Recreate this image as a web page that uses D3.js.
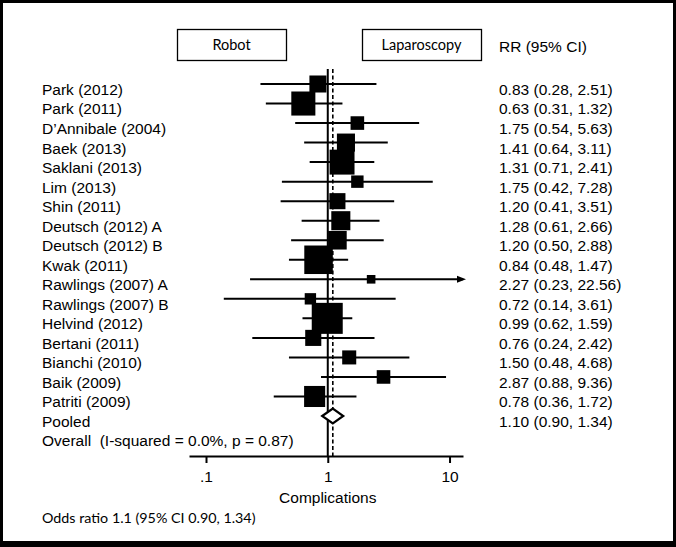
<!DOCTYPE html>
<html>
<head>
<meta charset="utf-8">
<script src="https://cdn.jsdelivr.net/npm/d3@7/dist/d3.min.js"></script>
<style>
  html, body { margin: 0; padding: 0; background: #fff; }
  svg { display: block; }
  text { white-space: pre; }
</style>
</head>
<body>
<svg id="chart" width="676" height="547"></svg>
<script>
// ---------------- DATA ----------------
const studies = [
  "Park (2012)", "Park (2011)", "D\u2019Annibale (2004)", "Baek (2013)", "Saklani (2013)",
  "Lim (2013)", "Shin (2011)", "Deutsch (2012) A", "Deutsch (2012) B", "Kwak (2011)",
  "Rawlings (2007) A", "Rawlings (2007) B", "Helvind (2012)", "Bertani (2011)",
  "Bianchi (2010)", "Baik (2009)", "Patriti (2009)"
];
const rr    = [0.83, 0.63, 1.75, 1.41, 1.31, 1.75, 1.20, 1.28, 1.20, 0.84, 2.27, 0.72, 0.99, 0.76, 1.50, 2.87, 0.78];
const ciLow = [0.28, 0.31, 0.54, 0.64, 0.71, 0.42, 0.41, 0.61, 0.50, 0.48, 0.23, 0.14, 0.62, 0.24, 0.48, 0.88, 0.36];
const ciHigh= [2.51, 1.32, 5.63, 3.11, 2.41, 7.28, 3.51, 2.66, 2.88, 1.47, 22.56, 3.61, 1.59, 2.42, 4.68, 9.36, 1.72];
const weights = [4.7, 9.4, 3.0, 5.3, 10.1, 2.5, 4.2, 5.9, 5.6, 13.2, 1.2, 2.1, 15.6, 4.2, 3.2, 3.0, 7.2];

const pooledLabel = ["Pooled"];
const pooledValues = [1.10, 0.90, 1.34];   // estimate, low, high
const overallText = ["Overall  (I-squared = 0.0%, p = 0.87)"];

const groupLabels = ["Robot", "Laparoscopy"];
const columnHeader = ["RR (95% CI)"];
const tickValues = [0.1, 1, 10];
const tickLabels = [".1", "1", "10"];
const axisTitle = ["Complications"];
const axisDomain = [0.0725, 12.9];
const footnote = ["Odds ratio 1.1 (95% CI 0.90, 1.34)"];

// ---------------- LAYOUT ----------------
const W = 676, H = 547;
const svg = d3.select("#chart");
const ARIAL = "'Liberation Sans', Arial, Helvetica, sans-serif";
const CALI = "Lato, 'Open Sans', sans-serif";
const FS = 15.5;

// frame
svg.append("rect").attr("x", 0).attr("y", 0).attr("width", W).attr("height", H).attr("fill", "#000");
svg.append("rect").attr("x", 3).attr("y", 3).attr("width", 670).attr("height", 538).attr("fill", "#fff");

const x = d3.scaleLog().domain(axisDomain).range([189, 463]);
const nRows = studies.length + 2;
const y = d3.scaleLinear().domain([0, nRows - 1]).range([84, 84 + 19.53 * (nRows - 1)]);
const size = d3.scaleSqrt().domain([0, d3.max(weights)]).range([0, 31]);
const axisY = 456;
const textDy = 5.5;
const labelX = 42, valueX = 499;
const fmt = d3.format(".2f");

// group boxes
const boxes = [[177, 286], [362, 481]];
groupLabels.forEach((g, i) => {
  const [x0, x1] = boxes[i];
  svg.append("rect").attr("x", x0 + 0.5).attr("y", 29.5).attr("width", x1 - x0).attr("height", 31)
    .attr("fill", "#fff").attr("stroke", "#000").attr("stroke-width", 1.3);
  svg.append("text").attr("x", (x0 + x1) / 2).attr("y", 45).attr("dy", "0.35em")
    .attr("text-anchor", "middle").attr("font-family", CALI).attr("font-size", 14.5)
    .attr("fill", "#000").text(g);
});
svg.append("text").attr("x", valueX).attr("y", 47).attr("dy", "0.35em")
  .attr("font-family", ARIAL).attr("font-size", FS).attr("fill", "#000").text(columnHeader[0]);

// reference lines
const lineTop = 69;
svg.append("line").attr("x1", x(1)).attr("x2", x(1)).attr("y1", lineTop).attr("y2", axisY)
  .attr("stroke", "#000").attr("stroke-width", 2);
svg.append("line").attr("x1", x(pooledValues[0])).attr("x2", x(pooledValues[0]))
  .attr("y1", lineTop).attr("y2", axisY)
  .attr("stroke", "#000").attr("stroke-width", 1.6).attr("stroke-dasharray", "4,2.5");

// study rows
const g = svg.append("g");
studies.forEach((s, i) => {
  const cy = y(i);
  const hiClipped = Math.min(ciHigh[i], axisDomain[1]);
  const loClipped = Math.max(ciLow[i], axisDomain[0]);
  g.append("line").attr("x1", x(loClipped)).attr("x2", x(hiClipped)).attr("y1", cy).attr("y2", cy)
    .attr("stroke", "#000").attr("stroke-width", 2);
  if (ciHigh[i] > axisDomain[1]) {
    const tip = x(axisDomain[1]) + 3;
    g.append("path").attr("d", `M${tip},${cy} L${tip - 9},${cy - 3.5} L${tip - 9},${cy + 3.5} Z`).attr("fill", "#000");
  }
  const sd = size(weights[i]);
  g.append("rect").attr("x", x(rr[i]) - sd / 2).attr("y", cy - sd / 2)
    .attr("width", sd).attr("height", sd).attr("fill", "#000");
  svg.append("text").attr("x", labelX).attr("y", cy + textDy).attr("dy", "0.35em")
    .attr("font-family", ARIAL).attr("font-size", FS).attr("fill", "#000").text(s);
  svg.append("text").attr("x", valueX).attr("y", cy + textDy).attr("dy", "0.35em")
    .attr("font-family", ARIAL).attr("font-size", FS).attr("fill", "#000")
    .text(`${fmt(rr[i])} (${fmt(ciLow[i])}, ${fmt(ciHigh[i])})`);
});

// pooled diamond
const py = y(studies.length);
const [pe, pl, ph] = pooledValues;
svg.append("path")
  .attr("d", `M${x(pl)},${py} L${x(pe)},${py - 7.5} L${x(ph)},${py} L${x(pe)},${py + 7.5} Z`)
  .attr("fill", "#fff").attr("stroke", "#000").attr("stroke-width", 2.2);
svg.append("text").attr("x", labelX).attr("y", py + textDy).attr("dy", "0.35em")
  .attr("font-family", ARIAL).attr("font-size", FS).attr("fill", "#000").text(pooledLabel[0]);
svg.append("text").attr("x", valueX).attr("y", py + textDy).attr("dy", "0.35em")
  .attr("font-family", ARIAL).attr("font-size", FS).attr("fill", "#000")
  .text(`${fmt(pe)} (${fmt(pl)}, ${fmt(ph)})`);

// overall text
const oy = y(studies.length + 1);
svg.append("text").attr("x", labelX).attr("y", oy + textDy).attr("dy", "0.35em")
  .attr("font-family", ARIAL).attr("font-size", FS).attr("fill", "#000").text(overallText[0]);

// axis
const axis = d3.axisBottom(x).tickValues(tickValues).tickFormat((d, i) => tickLabels[i])
  .tickSizeOuter(0).tickSizeInner(7).tickPadding(8);
const ax = svg.append("g").attr("transform", `translate(0,${axisY})`).call(axis);
ax.select(".domain").attr("stroke", "#000").attr("stroke-width", 2);
ax.selectAll(".tick line").attr("stroke", "#000").attr("stroke-width", 2);
ax.selectAll(".tick text").attr("font-family", ARIAL).attr("font-size", FS).attr("fill", "#000");

svg.append("text").attr("x", x(1)).attr("y", 503).attr("text-anchor", "middle")
  .attr("font-family", ARIAL).attr("font-size", FS).attr("fill", "#000").text(axisTitle[0]);

svg.append("text").attr("x", labelX).attr("y", 523).attr("font-family", CALI).attr("font-size", 14.3)
  .attr("fill", "#000").text(footnote[0]);
</script>
</body>
</html>
